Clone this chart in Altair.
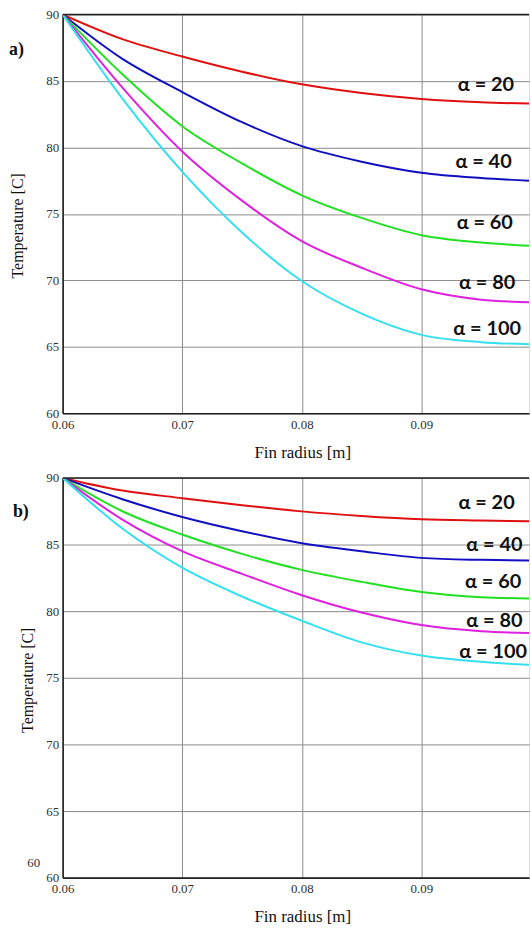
import altair as alt
import pandas as pd

# Fin radius sample points [m]
radius = [0.06, 0.065, 0.07, 0.075, 0.08, 0.085, 0.09, 0.095, 0.099]
alphas = ["α = 20", "α = 40", "α = 60", "α = 80", "α = 100"]
colors = ["#e01010", "#1010c0", "#22e022", "#e020e0", "#33e0f0"]

# Panel a) temperatures [C]
a20 = [90, 88.15, 86.84, 85.7, 84.75, 84.1, 83.65, 83.4, 83.3]
a40 = [90, 86.66, 84.17, 81.9, 80.1, 78.93, 78.1, 77.7, 77.5]
a60 = [90, 85.5, 81.6, 78.8, 76.4, 74.7, 73.4, 72.85, 72.6]
a80 = [90, 84.5, 79.7, 76.0, 72.95, 70.95, 69.33, 68.55, 68.35]
a100 = [90, 83.67, 78.18, 73.6, 69.95, 67.5, 65.9, 65.35, 65.2]

# Panel b) temperatures [C]
b20 = [90, 89.05, 88.48, 87.95, 87.49, 87.15, 86.9, 86.8, 86.74]
b40 = [90, 88.4, 87.07, 86.0, 85.1, 84.5, 84.0, 83.85, 83.8]
b60 = [90, 87.5, 85.75, 84.3, 83.1, 82.2, 81.44, 81.05, 80.95]
b80 = [90, 86.87, 84.5, 82.8, 81.2, 79.9, 78.96, 78.5, 78.36]
b100 = [90, 86.2, 83.26, 81.1, 79.28, 77.66, 76.67, 76.2, 75.97]

# label anchor positions (data coordinates)
a_lab_x = [0.0954, 0.0952, 0.0953, 0.0955, 0.0955]
a_lab_T = [84.69, 78.93, 74.29, 69.8, 66.37]
b_lab_x = [0.09545, 0.0961, 0.0960, 0.0961, 0.0960]
b_lab_T = [88.13, 85.0, 82.16, 79.25, 76.94]

x_ticks = [0.06, 0.07, 0.08, 0.09]
y_ticks = [60, 65, 70, 75, 80, 85, 90]

W = 469
SERIF = "Liberation Serif"


def panel(series, lab_x, lab_T, tag, tag_x, tag_y, yt_x, yt_y, height, extra_text=None):
    rows = []
    for name, vals in zip(alphas, series):
        for r, t in zip(radius, vals):
            rows.append({"r": r, "T": t, "alpha": name})
    df = pd.DataFrame(rows)
    xscale = alt.Scale(domain=[0.06, 0.099], nice=False, zero=False)
    yscale = alt.Scale(domain=[60, 90], nice=False, zero=False)
    xaxis = alt.Axis(values=x_ticks, format=".2f", title="Fin radius [m]",
                     grid=True, gridColor="#8a8a8a", gridWidth=1,
                     domainColor="#222", domainWidth=1.6, ticks=False,
                     labelFont=SERIF, labelFontSize=13, labelColor="#333",
                     labelPadding=5, labelFlush=False,
                     titleFont=SERIF, titleFontSize=17, titleFontWeight="normal",
                     titleColor="#111", titleX=241, titleY=39,
                     titleBaseline="middle", titleAlign="center")
    yaxis = alt.Axis(values=y_ticks, format="d", title="Temperature [C]",
                     grid=True, gridColor="#8a8a8a", gridWidth=1,
                     domainColor="#222", domainWidth=1.6, ticks=False,
                     labelFont=SERIF, labelFontSize=13, labelColor="#333",
                     labelPadding=4, labelFlush=False,
                     titleFont=SERIF, titleFontSize=16, titleFontWeight="normal",
                     titleColor="#111", titleX=yt_x, titleY=yt_y, titleAngle=270,
                     titleBaseline="middle", titleAlign="center")
    lines = alt.Chart(df).mark_line(strokeWidth=2, interpolate="monotone", clip=True).encode(
        x=alt.X("r:Q", scale=xscale, axis=xaxis),
        y=alt.Y("T:Q", scale=yscale, axis=yaxis),
        color=alt.Color("alpha:N", scale=alt.Scale(domain=alphas, range=colors), legend=None),
        detail="alpha:N",
    )
    labdf = pd.DataFrame({"r": lab_x, "T": lab_T, "alpha": alphas})
    labels = alt.Chart(labdf).mark_text(font="Lato", fontWeight="bold", fontSize=20,
                                        color="#111", align="center", baseline="middle").encode(
        x=alt.X("r:Q", scale=xscale), y=alt.Y("T:Q", scale=yscale), text="alpha:N")
    top = alt.Chart(pd.DataFrame({"k": [0]})).mark_rule(color="#222", strokeWidth=1.6).encode(
        x=alt.value(0), x2=alt.value(W), y=alt.value(0))
    tagc = alt.Chart(pd.DataFrame({"t": [tag]})).mark_text(
        font=SERIF, fontWeight="bold", fontSize=18, color="#111",
        align="left", baseline="middle").encode(text="t:N", x=alt.value(tag_x), y=alt.value(tag_y))
    layers = [lines, top, labels, tagc]
    if extra_text is not None:
        t, ex, ey = extra_text
        layers.append(alt.Chart(pd.DataFrame({"t": [t]})).mark_text(
            font=SERIF, fontSize=13, color="#333", align="center", baseline="middle").encode(
            text="t:N", x=alt.value(ex), y=alt.value(ey)))
    return alt.layer(*layers).properties(width=W, height=height)


pa = panel([a20, a40, a60, a80, a100], a_lab_x, a_lab_T, "a)", -54, 36, -45, 212, 401)
pb = panel([b20, b40, b60, b80, b100], b_lab_x, b_lab_T, "b)", -50, 34, -35, 203, 402,
           extra_text=("60", -29, 387))

chart = alt.vconcat(pa, pb, spacing=65, bounds="flush").properties(
    padding={"left": 8, "top": 5, "right": 0, "bottom": 0}
).configure_view(stroke=None).configure(background="white")

chart.save("out.html", embed_options={"renderer": "svg", "actions": False})
